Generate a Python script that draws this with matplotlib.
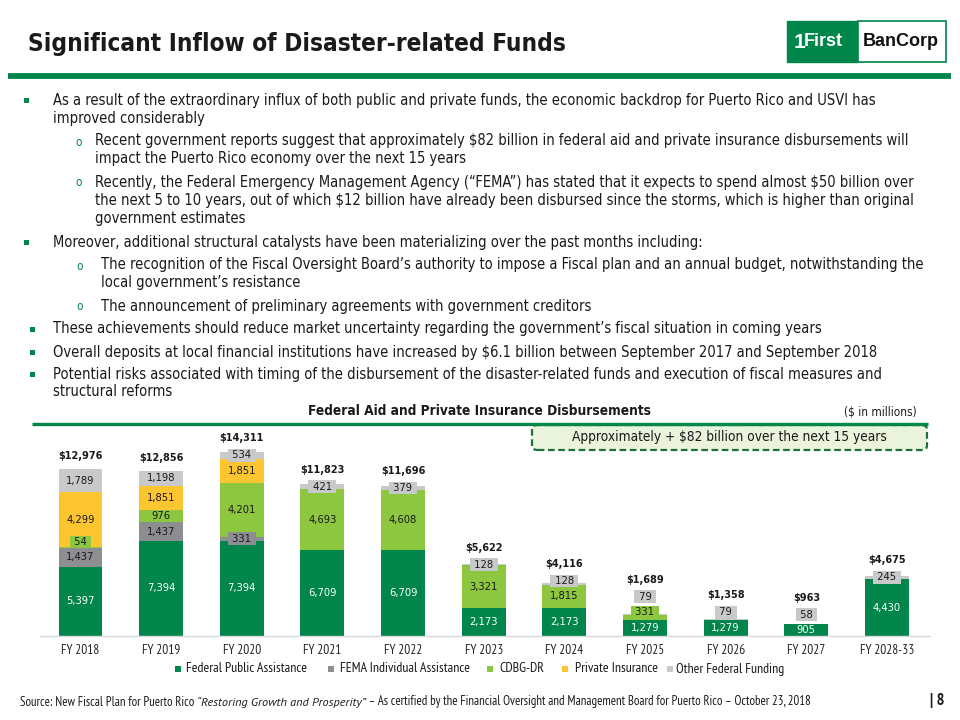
import matplotlib
matplotlib.use('Agg')
import matplotlib.pyplot as plt
from matplotlib.patches import Rectangle, FancyBboxPatch
from matplotlib.lines import Line2D

# ---------------- data ----------------
categories = ['FY 2018', 'FY 2019', 'FY 2020', 'FY 2021', 'FY 2022', 'FY 2023',
              'FY 2024', 'FY 2025', 'FY 2026', 'FY 2027', 'FY 2028-33']
federal_public = [5397, 7394, 7394, 6709, 6709, 2173, 2173, 1279, 1279, 905, 4430]
fema_individual = [1437, 1437, 331, 0, 0, 0, 0, 0, 0, 0, 0]
cdbg_dr = [54, 976, 4201, 4693, 4608, 3321, 1815, 331, 0, 0, 0]
private_insurance = [4299, 1851, 1851, 0, 0, 0, 0, 0, 0, 0, 0]
other_federal = [1789, 1198, 534, 421, 379, 128, 128, 79, 79, 58, 245]
totals = [12976, 12856, 14311, 11823, 11696, 5622, 4116, 1689, 1358, 963, 4675]
series_names = ['Federal Public Assistance', 'FEMA Individual Assistance', 'CDBG-DR',
                'Private Insurance', 'Other Federal Funding']
series_values = [federal_public, fema_individual, cdbg_dr, private_insurance, other_federal]

# ---------------- style ----------------
GREEN = '#00854A'
colors = ['#00854A', '#8C8E91', '#8DC63F', '#FDC530', '#C8C9CB']
label_colors = ['white', '#1A1A1A', '#1A1A1A', '#1A1A1A', '#1A1A1A']
BODY = dict(family='DejaVu Sans', fontstretch='condensed')
NARROW = dict(family='PT Sans Narrow')
LOGO = dict(family='Liberation Sans')
TXT = '#1A1A1A'

W, H = 960, 720
fig = plt.figure(figsize=(9.6, 7.2), dpi=100)


def fx(px):
    return px / W


def fy(py):
    return 1 - py / H


# ---------------- header ----------------
fig.text(fx(28), fy(44), 'Significant Inflow of Disaster-related Funds', fontsize=17.5,
         weight='bold', color=TXT, va='center', ha='left', **BODY)
fig.add_artist(Line2D([fx(8), fx(951)], [fy(76), fy(76)], color=GREEN, lw=4.2,
                      solid_capstyle='butt'))
# logo
fig.add_artist(Rectangle((fx(787), fy(62)), fx(858) - fx(787), fy(21) - fy(62),
                         facecolor=GREEN, edgecolor=GREEN, lw=1))
fig.add_artist(Rectangle((fx(858), fy(62)), fx(946) - fx(858), fy(21) - fy(62),
                         facecolor='white', edgecolor=GREEN, lw=1.2))
fig.text(fx(794), fy(42), '1', fontsize=15, weight='bold', color='white',
         va='center', ha='left', **LOGO)
fig.text(fx(804), fy(42), 'First', fontsize=13, weight='bold', color='white',
         va='center', ha='left', **LOGO)
fig.text(fx(901), fy(42), 'BanCorp', fontsize=13, weight='bold', color='#111111',
         va='center', ha='center', **LOGO)

# ---------------- bullets ----------------
FS = 10.5
# (marker type, marker x, text x, [(y, text), ...])
bullet_items = [
    ('sq', 26, 53, [(100, 'As a result of the extraordinary influx of both public and private funds, the economic backdrop for Puerto Rico and USVI has'),
                    (118, 'improved considerably')]),
    ('o', 75, 95, [(141, 'Recent government reports suggest that approximately $82 billion in federal aid and private insurance disbursements will'),
                   (159, 'impact the Puerto Rico economy over the next 15 years')]),
    ('o', 75, 95, [(182, 'Recently, the Federal Emergency Management Agency (\u201cFEMA\u201d) has stated that it expects to spend almost $50 billion over'),
                   (200, 'the next 5 to 10 years, out of which $12 billion have already been disbursed since the storms, which is higher than original'),
                   (219, 'government estimates')]),
    ('sq', 26, 53, [(242, 'Moreover, additional structural catalysts have been materializing over the past months including:')]),
    ('o', 76, 101, [(265, 'The recognition of the Fiscal Oversight Board\u2019s authority to impose a Fiscal plan and an annual budget, notwithstanding the'),
                    (283, 'local government\u2019s resistance')]),
    ('o', 76, 101, [(306, 'The announcement of preliminary agreements with government creditors')]),
    ('sq', 32, 53, [(329, 'These achievements should reduce market uncertainty regarding the government\u2019s fiscal situation in coming years')]),
    ('sq', 32, 53, [(352, 'Overall deposits at local financial institutions have increased by $6.1 billion between September 2017 and September 2018')]),
    ('sq', 32, 53, [(374, 'Potential risks associated with timing of the disbursement of the disaster-related funds and execution of fiscal measures and'),
                    (392, 'structural reforms')]),
]
for kind, mx, tx, lines in bullet_items:
    y0 = lines[0][0]
    if kind == 'sq':
        fig.add_artist(Rectangle((fx(mx - 2.5), fy(y0 + 2.5)), 5 / W, 5 / H,
                                 facecolor=GREEN, edgecolor='none'))
    else:
        fig.text(fx(mx), fy(y0 + 1), 'o', fontsize=8.5, color=GREEN, va='center',
                 ha='left', **BODY)
    for y, t in lines:
        fig.text(fx(tx), fy(y), t, fontsize=FS, color=TXT, va='center', ha='left', **BODY)

# ---------------- chart heading ----------------
fig.text(fx(480), fy(411), 'Federal Aid and Private Insurance Disbursements', fontsize=9.8,
         weight='bold', color=TXT, va='center', ha='center', **BODY)
fig.text(fx(880), fy(412), '($ in millions)', fontsize=8.5, color=TXT, va='center',
         ha='center', **BODY)
fig.add_artist(Line2D([fx(32), fx(928)], [fy(423.5), fy(423.5)], color=GREEN, lw=2.4,
                      solid_capstyle='butt'))
box = FancyBboxPatch((fx(532), fy(450)), fx(927) - fx(532), fy(425) - fy(450),
                     boxstyle='round,pad=0,rounding_size=0.006', facecolor='#EAF4DC',
                     edgecolor='#1F6E3C', lw=1.6, linestyle=(0, (3.0, 1.6)))
fig.add_artist(box)
fig.text(fx(729), fy(437.5), 'Approximately + $82 billion over the next 15 years',
         fontsize=9.8, color=TXT, va='center', ha='center', **BODY)

# ---------------- stacked bar chart ----------------
PX = 0.01286          # pixels per $ million
YMAX = 16000
ax_h = YMAX * PX
ax = fig.add_axes([fx(40), fy(636), fx(930) - fx(40), ax_h / H])
spacing = 80.65
x_left = -40.5 / spacing
ax.set_xlim(x_left, x_left + 890 / spacing)
ax.set_ylim(0, YMAX)
ax.patch.set_alpha(0)

xs = list(range(len(categories)))
bottoms = [0.0] * len(categories)
for vals, col, name in zip(series_values, colors, series_names):
    ax.bar(xs, vals, width=0.545, bottom=bottoms, color=col, label=name,
           edgecolor='none', zorder=2)
    bottoms = [b + v for b, v in zip(bottoms, vals)]

GAP = 15.5 / PX
for i in xs:
    base = 0.0
    prev = None
    for k, (vals, col, lc) in enumerate(zip(series_values, colors, label_colors)):
        v = vals[i]
        if v == 0:
            continue
        ctr = base + v / 2
        y = ctr if prev is None else max(ctr, prev + GAP)
        small = k > 0 and v * PX < 10
        kw = {}
        txt = f'{v:,}'
        if small:
            kw['bbox'] = dict(boxstyle='square,pad=0.12', facecolor=col, edgecolor='none')
            txt = f' {v:,} '
        ax.text(i, y, txt, ha='center', va='center', fontsize=8, color=lc,
                zorder=4, **kw, **BODY)
        prev = y
        base += v
    ty = max(totals[i] + 13 / PX, prev + 17 / PX)
    ax.text(i, ty, f'${totals[i]:,}', ha='center', va='center', fontsize=7.8,
            weight='bold', color=TXT, zorder=4, clip_on=False, **BODY)

for s in ['top', 'right', 'left']:
    ax.spines[s].set_visible(False)
ax.spines['bottom'].set_color('#D9D9D9')
ax.spines['bottom'].set_linewidth(1.0)
ax.set_yticks([])
ax.set_xticks(xs)
ax.set_xticklabels(categories, fontsize=9.5, color='#262626', **NARROW)
ax.tick_params(axis='x', length=0, pad=6)

# ---------------- legend ----------------
legend_pos = [(178, 186), (331, 340), (490, 499), (565, 575), (670, 676)]
for (mx, tx), name, col in zip(legend_pos, series_names, colors):
    fig.add_artist(Rectangle((fx(mx - 3), fy(672)), 6 / W, 6 / H, facecolor=col,
                             edgecolor='none'))
    fig.text(fx(tx), fy(669), name, fontsize=10, color=TXT, va='center', ha='left', **NARROW)

# ---------------- footer ----------------
t1 = fig.text(fx(20), fy(702), 'Source: New Fiscal Plan for Puerto Rico ', fontsize=9.2,
              color=TXT, va='center', ha='left', **NARROW)
t2 = fig.text(0, 0, '\u201cRestoring Growth and Prosperity\u201d', fontsize=8.8, style='italic',
              family='PT Sans', color=TXT, va='bottom', ha='left')
fig.canvas.draw()
r = fig.canvas.get_renderer()
bb1 = t1.get_window_extent(r)
t2.set_position((bb1.x1 / W, bb1.y0 / H))
fig.canvas.draw()
bb2 = t2.get_window_extent(r)
fig.text(bb2.x1 / W, bb1.y0 / H,
         ' \u2013 As certified by the Financial Oversight and Management Board for Puerto Rico \u2013 October 23, 2018',
         fontsize=9.2, color=TXT, va='bottom', ha='left', **NARROW)
fig.text(fx(930), fy(701), '| 8', fontsize=12, weight='bold', color=TXT, va='center',
         ha='left', **NARROW)

fig.savefig('out.png', dpi=100)
